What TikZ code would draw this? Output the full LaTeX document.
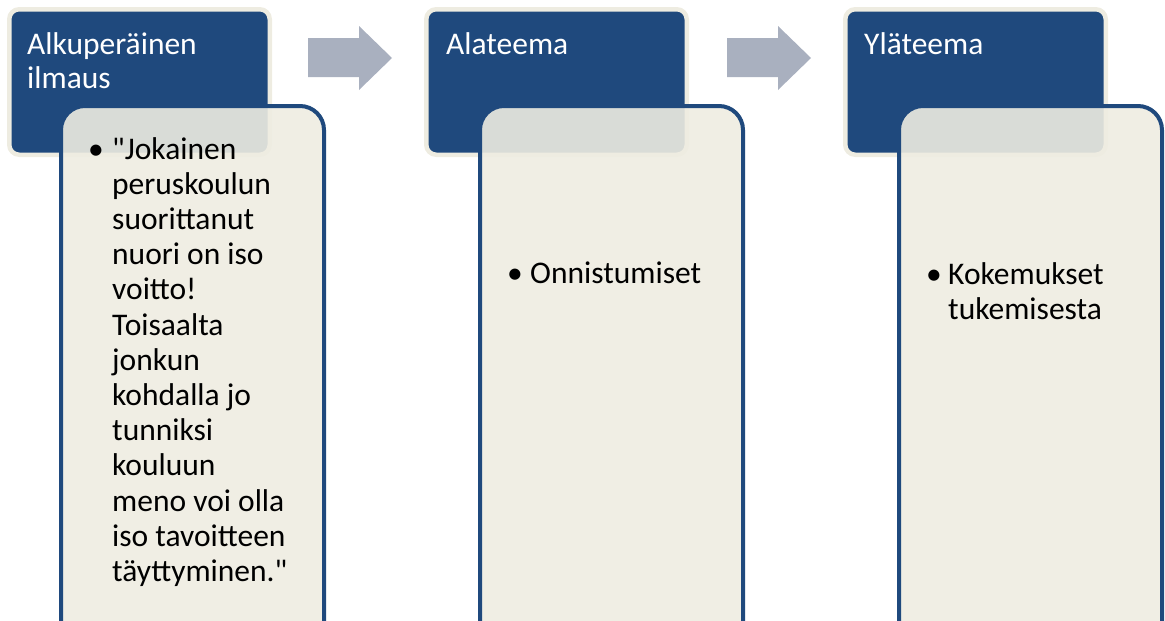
\documentclass[tikz,border=0pt]{standalone}
\usepackage{fontspec}
\setmainfont{Carlito}[Ligatures=TeXOff]
\definecolor{themeblue}{HTML}{1F497D}
\definecolor{themebeige}{HTML}{EEECE1}
\definecolor{arrowgrey}{HTML}{A9B0BF}
\tikzset{
  header/.style={draw=themebeige, line width=4.5pt, fill=themeblue, rounded corners=10pt,
    anchor=north west, minimum width=260.5pt, minimum height=145.5pt, inner sep=0pt},
  detail/.style={draw=themeblue, line width=4pt, fill=themebeige, fill opacity=0.9,
    rounded corners=24pt, anchor=north west, minimum width=263pt, minimum height=540pt, inner sep=0pt},
  headtext/.style={anchor=north west, text=white, align=left, inner sep=0pt,
    font=\fontsize{31.5}{34.5}\selectfont},
  bodytext/.style={anchor=north west, align=left, inner sep=0pt,
    font=\fontsize{31.5}{35.2}\selectfont},
  bullet/.style={anchor=base west, inner sep=0pt, font=\fontsize{31.5}{35}\selectfont},
}
\begin{document}
\begin{tikzpicture}[x=1pt,y=-1pt]
\useasboundingbox (0,0) rectangle (1165,621);
\clip (0,0) rectangle (1165,621);
% Boxes
\foreach \i/\hx/\bx in {1/7/59,2/424/478,3/843/897} {
  \node[header] (head\i) at (\hx,7) {};
  \node[detail] (body\i) at (\bx,104) {};
}
% Arrows between boxes
\foreach \ax in {308,727}
  \fill[arrowgrey] (\ax,38) -- (\ax+51,38) -- (\ax+51,26) -- (\ax+84,58)
    -- (\ax+51,90) -- (\ax+51,77) -- (\ax,77) -- cycle;
% Titles
\node[headtext] (title1) at (27,32) {Alkuperäinen\\ilmaus};
\node[headtext] (title2) at (446,32) {Alateema};
\node[headtext] (title3) at (864,32) {Yläteema};
% Contents
\node[bullet] (dot1) at (88,159) {\textbullet};
\node[bodytext] (text1) at (112,137) {"Jokainen\\peruskoulun\\suorittanut\\nuori on iso\\voitto!\\Toisaalta\\jonkun\\kohdalla jo\\tunniksi\\kouluun\\meno voi olla\\iso tavoitteen\\täyttyminen."};
\node[bullet] (dot2) at (507,283) {\textbullet};
\node[bullet] (text2) at (530,283) {Onnistumiset};
\node[bullet] (dot3) at (926,284) {\textbullet};
\node[bodytext] (text3) at (948,262) {Kokemukset\\tukemisesta};
\end{tikzpicture}
\end{document}
